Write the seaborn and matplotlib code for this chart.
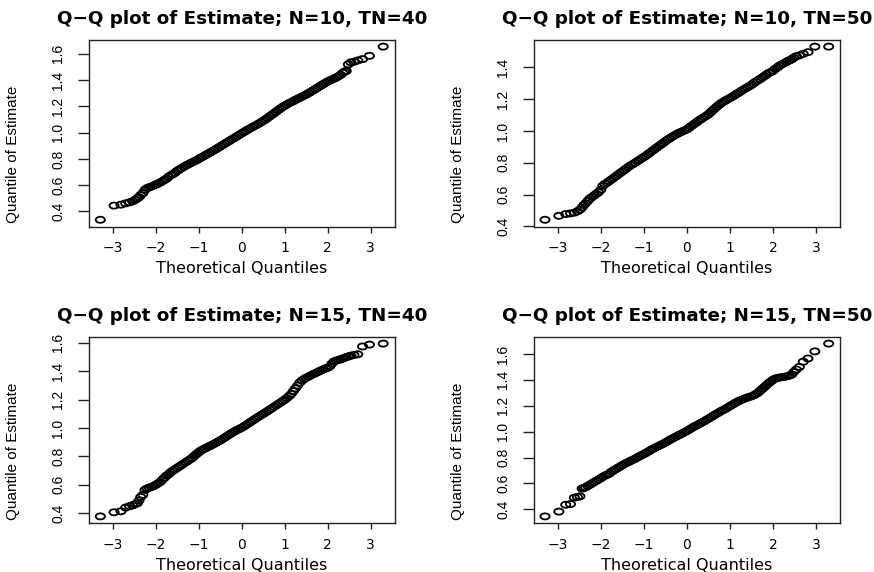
import matplotlib
matplotlib.use("Agg")
import matplotlib.pyplot as plt
import seaborn as sns
import pandas as pd
from matplotlib.path import Path
from matplotlib.transforms import Affine2D
from matplotlib.ticker import MultipleLocator, FormatStrFormatter, FuncFormatter

# ---------------- data ----------------
theoretical_q = [
    -3.29, -2.97, -2.81, -2.70, -2.61, -2.54, -2.48, -2.43, -2.39, -2.35,
    -2.30, -2.25, -2.20, -2.15, -2.10, -2.05, -2.00, -1.95, -1.90, -1.85,
    -1.80, -1.75, -1.70, -1.65, -1.60, -1.55, -1.50, -1.45, -1.40, -1.35,
    -1.30, -1.25, -1.20, -1.15, -1.10, -1.05, -1.00, -0.95, -0.90, -0.85,
    -0.80, -0.75, -0.70, -0.65, -0.60, -0.55, -0.50, -0.45, -0.40, -0.35,
    -0.30, -0.25, -0.20, -0.15, -0.10, -0.05, 0.00, 0.05, 0.10, 0.15,
    0.20, 0.25, 0.30, 0.35, 0.40, 0.45, 0.50, 0.55, 0.60, 0.65,
    0.70, 0.75, 0.80, 0.85, 0.90, 0.95, 1.00, 1.05, 1.10, 1.15,
    1.20, 1.25, 1.30, 1.35, 1.40, 1.45, 1.50, 1.55, 1.60, 1.65,
    1.70, 1.75, 1.80, 1.85, 1.90, 1.95, 2.00, 2.05, 2.10, 2.15,
    2.20, 2.25, 2.30,
    2.35, 2.39, 2.43, 2.48, 2.54, 2.61, 2.70, 2.81, 2.97, 3.29,
]

est_n10_tn40 = [
    0.337, 0.445, 0.452, 0.462, 0.470, 0.478, 0.488, 0.500, 0.510, 0.525,
    0.540, 0.565, 0.578, 0.585, 0.590, 0.597, 0.605, 0.612, 0.620, 0.630,
    0.640, 0.650, 0.665, 0.675, 0.685, 0.695, 0.710, 0.720, 0.730, 0.740,
    0.750, 0.758, 0.766, 0.775, 0.783, 0.790, 0.800, 0.810, 0.818, 0.828,
    0.837, 0.847, 0.856, 0.865, 0.875, 0.885, 0.895, 0.905, 0.915, 0.925,
    0.935, 0.945, 0.955, 0.965, 0.975, 0.985, 0.995, 1.005, 1.015, 1.025,
    1.034, 1.043, 1.052, 1.060, 1.070, 1.080, 1.090, 1.100, 1.112, 1.124,
    1.136, 1.148, 1.160, 1.172, 1.184, 1.196, 1.206, 1.215, 1.224, 1.232,
    1.240, 1.250, 1.258, 1.266, 1.274, 1.282, 1.290, 1.300, 1.310, 1.320,
    1.330, 1.340, 1.350, 1.360, 1.370, 1.380, 1.390, 1.398, 1.405, 1.412,
    1.420, 1.430, 1.440,
    1.455, 1.465, 1.470, 1.520, 1.535, 1.540, 1.550, 1.560, 1.585, 1.655,
]

est_n10_tn50 = [
    0.442, 0.467, 0.478, 0.482, 0.487, 0.495, 0.505, 0.520, 0.535, 0.545,
    0.560, 0.575, 0.585, 0.595, 0.605, 0.615, 0.630, 0.655, 0.668, 0.675,
    0.685, 0.695, 0.705, 0.715, 0.725, 0.735, 0.745, 0.755, 0.765, 0.775,
    0.785, 0.792, 0.800, 0.810, 0.818, 0.827, 0.835, 0.845, 0.855, 0.865,
    0.875, 0.885, 0.895, 0.905, 0.915, 0.925, 0.935, 0.945, 0.953, 0.962,
    0.970, 0.978, 0.985, 0.992, 0.998, 1.004, 1.010, 1.020, 1.030, 1.040,
    1.050, 1.060, 1.070, 1.078, 1.087, 1.095, 1.105, 1.117, 1.130, 1.142,
    1.154, 1.165, 1.175, 1.184, 1.192, 1.200, 1.207, 1.215, 1.223, 1.232,
    1.240, 1.249, 1.258, 1.266, 1.274, 1.282, 1.290, 1.300, 1.310, 1.318,
    1.327, 1.336, 1.345, 1.355, 1.365, 1.370, 1.378, 1.390, 1.400, 1.410,
    1.418, 1.425, 1.432,
    1.440, 1.445, 1.450, 1.460, 1.470, 1.475, 1.485, 1.495, 1.530, 1.530,
]

est_n15_tn40 = [
    0.378, 0.407, 0.414, 0.440, 0.450, 0.455, 0.465, 0.470, 0.490, 0.515,
    0.530, 0.565, 0.575, 0.580, 0.585, 0.592, 0.600, 0.610, 0.620, 0.635,
    0.650, 0.665, 0.675, 0.690, 0.700, 0.710, 0.720, 0.730, 0.740, 0.750,
    0.760, 0.770, 0.780, 0.790, 0.805, 0.818, 0.830, 0.842, 0.850, 0.857,
    0.865, 0.873, 0.880, 0.888, 0.896, 0.905, 0.913, 0.922, 0.932, 0.942,
    0.952, 0.962, 0.971, 0.980, 0.988, 0.995, 1.003, 1.012, 1.022, 1.032,
    1.042, 1.052, 1.062, 1.072, 1.082, 1.092, 1.100, 1.110, 1.120, 1.130,
    1.140, 1.150, 1.160, 1.170, 1.180, 1.190, 1.200, 1.212, 1.225, 1.240,
    1.260, 1.280, 1.300, 1.320, 1.335, 1.345, 1.355, 1.362, 1.370, 1.378,
    1.385, 1.392, 1.400, 1.407, 1.414, 1.420, 1.425, 1.435, 1.455, 1.470,
    1.475, 1.480, 1.485,
    1.490, 1.495, 1.500, 1.505, 1.510, 1.515, 1.520, 1.575, 1.588, 1.595,
]

est_n15_tn50 = [
    0.345, 0.382, 0.435, 0.440, 0.490, 0.495, 0.500, 0.560, 0.565, 0.570,
    0.580, 0.590, 0.600, 0.610, 0.620, 0.630, 0.640, 0.650, 0.660, 0.667,
    0.675, 0.690, 0.700, 0.710, 0.720, 0.730, 0.740, 0.750, 0.758, 0.766,
    0.775, 0.783, 0.790, 0.800, 0.810, 0.818, 0.826, 0.835, 0.845, 0.855,
    0.865, 0.873, 0.882, 0.890, 0.898, 0.906, 0.915, 0.925, 0.935, 0.945,
    0.953, 0.962, 0.970, 0.978, 0.987, 0.996, 1.005, 1.015, 1.025, 1.035,
    1.044, 1.053, 1.062, 1.071, 1.080, 1.090, 1.100, 1.110, 1.120, 1.130,
    1.140, 1.150, 1.160, 1.168, 1.177, 1.187, 1.197, 1.207, 1.217, 1.227,
    1.235, 1.243, 1.250, 1.257, 1.263, 1.268, 1.274, 1.280, 1.290, 1.300,
    1.315, 1.330, 1.345, 1.360, 1.375, 1.388, 1.400, 1.410, 1.415, 1.418,
    1.420, 1.423, 1.426,
    1.430, 1.435, 1.440, 1.460, 1.480, 1.500, 1.540, 1.565, 1.620, 1.680,
]

panel_titles = [
    "Q\u2212Q plot of Estimate; N=10, TN=40",
    "Q\u2212Q plot of Estimate; N=10, TN=50",
    "Q\u2212Q plot of Estimate; N=15, TN=40",
    "Q\u2212Q plot of Estimate; N=15, TN=50",
]
panel_values = [est_n10_tn40, est_n10_tn50, est_n15_tn40, est_n15_tn50]
x_label = "Theoretical Quantiles"
y_label = "Quantile of Estimate"

# ---------------- style ----------------
sns.set_theme(style="white")
plt.rcParams["font.family"] = ["DejaVu Sans"]
narrow = ["Liberation Sans Narrow", "Liberation Sans", "DejaVu Sans"]

fig = plt.figure(figsize=(8.74, 5.72), dpi=100)
fig.patch.set_facecolor("white")

W, H = 874.0, 572.0
boxes = [
    (89.0, 39.7, 394.5, 226.7),
    (533.7, 39.7, 840.0, 226.7),
    (89.0, 336.7, 394.5, 523.3),
    (533.7, 336.7, 840.0, 523.3),
]

oval = Path.unit_circle().transformed(Affine2D().scale(1.0, 0.66))

for (l, t, r, b), title, vals in zip(boxes, panel_titles, panel_values):
    ax = fig.add_axes([l / W, 1 - b / H, (r - l) / W, (b - t) / H])
    df = pd.DataFrame({"theoretical": theoretical_q, "estimate": vals})
    sns.scatterplot(data=df, x="theoretical", y="estimate", ax=ax,
                    marker=oval, s=44, facecolor="none",
                    edgecolor="black", linewidth=1.3, legend=False)
    # R-style 4% axis extension
    xmin, xmax = min(theoretical_q), max(theoretical_q)
    ymin, ymax = min(vals), max(vals)
    dx, dy = 0.04 * (xmax - xmin), 0.04 * (ymax - ymin)
    ax.set_xlim(xmin - dx, xmax + dx)
    ax.set_ylim(ymin - dy, ymax + dy)
    ax.xaxis.set_major_locator(MultipleLocator(1))
    ax.yaxis.set_major_locator(MultipleLocator(0.2))
    ax.yaxis.set_major_formatter(FormatStrFormatter("%.1f"))
    ax.xaxis.set_major_formatter(FuncFormatter(lambda v, p: f"{int(round(v))}".replace("-", "\u2212")))

    for sp in ax.spines.values():
        sp.set_visible(True)
        sp.set_color("#222222")
        sp.set_linewidth(1.0)
    ax.tick_params(axis="x", direction="out", length=4, width=1.0, color="#222222",
                   pad=6.5, labelsize=10, labelcolor="black", bottom=True)
    ax.tick_params(axis="y", direction="out", length=8, width=1.0, color="#222222",
                   pad=9, labelrotation=90, labelcolor="black", left=True)
    for lbl in ax.get_yticklabels():
        lbl.set_family(narrow)
        lbl.set_fontsize(10)
        lbl.set_va("center")

    ax.set_title(title, fontsize=13.2, fontweight="bold", pad=11, color="black")
    ax.set_xlabel(x_label, fontsize=11.5, color="black")
    ax.set_ylabel(y_label, fontsize=11, color="black", family=narrow)
    ax.xaxis.set_label_coords(0.5, -0.185)
    ax.yaxis.set_label_coords(-0.225, 0.385)
    ax.set_facecolor("white")

fig.savefig("out.png", dpi=100, facecolor="white")
